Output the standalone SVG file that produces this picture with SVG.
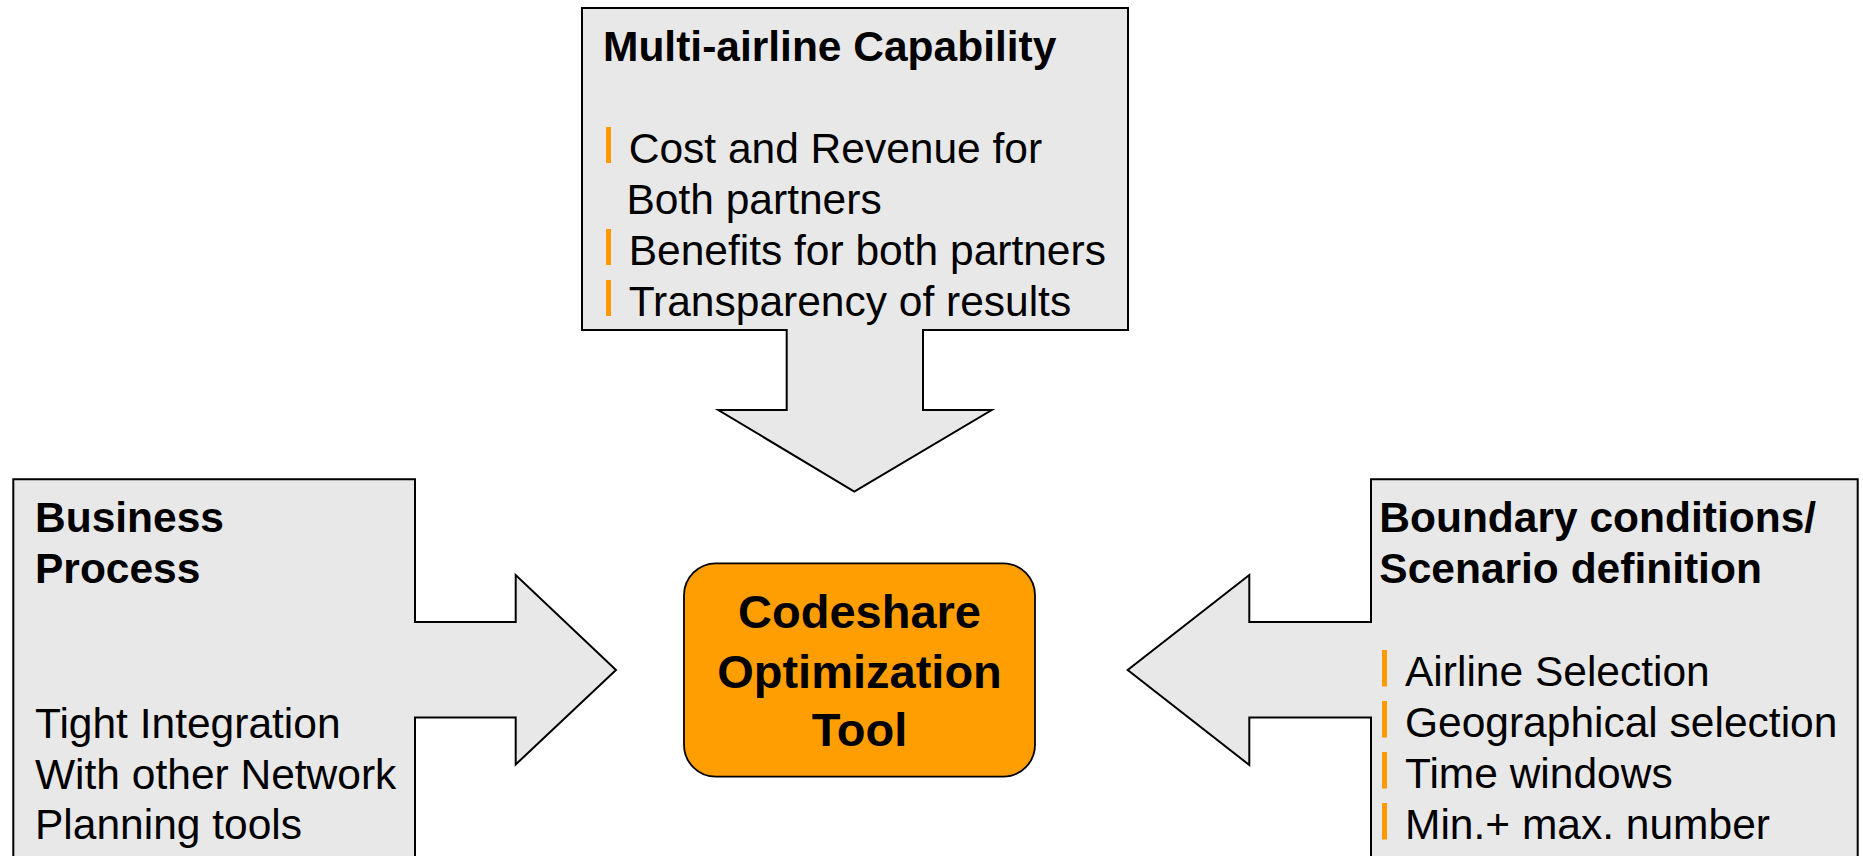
<svg xmlns="http://www.w3.org/2000/svg" width="1863" height="856" viewBox="0 0 1863 856">
<style>
.callout{fill:#E8E8E8;stroke:#000;stroke-width:2;stroke-linejoin:miter}
.core{fill:#FF9E00;stroke:#000;stroke-width:1.8}
.t{font-family:"Liberation Sans",Arial,sans-serif;font-size:42.5px;fill:#000}
.b{font-weight:bold}
.c{font-family:"Liberation Sans",Arial,sans-serif;font-size:47px;font-weight:bold;fill:#000;text-anchor:middle}
.bul{fill:#FF9900}
</style>
<rect width="1863" height="856" fill="#fff"/>
<g id="multi-airline">
<path class="callout" d="M582,8 H1128 V330 H923 V410 H991.7 L854.3,491.7 L718.3,410 H786.7 V330 H582 Z"/>
<text class="t b" x="603" y="61">Multi-airline Capability</text>
<rect class="bul" x="606" y="127" width="5" height="36"/>
<rect class="bul" x="606" y="229" width="5" height="36"/>
<rect class="bul" x="606" y="280" width="5" height="36"/>
<text class="t" x="628.7" y="162.5">Cost and Revenue for</text>
<text class="t" x="626.5" y="213.5">Both partners</text>
<text class="t" x="628.7" y="264.5">Benefits for both partners</text>
<text class="t" x="628.7" y="315.5">Transparency of results</text>
</g>
<g id="business-process">
<path class="callout" d="M13.3,870 V479.3 H415 V622 H515.7 V575 L616,670 L515.7,764.5 V717.5 H415 V870 Z"/>
<text class="t b" x="35" y="531.7">Business</text>
<text class="t b" x="35" y="582.7">Process</text>
<text class="t" x="35" y="737.7">Tight Integration</text>
<text class="t" x="35" y="788.5">With other Network</text>
<text class="t" x="35" y="839.3">Planning tools</text>
</g>
<g id="boundary-conditions">
<path class="callout" d="M1857.7,870 V479.3 H1371 V622 H1249.3 V575 L1127.7,670 L1249.3,765 V717.5 H1371 V870 Z"/>
<text class="t b" x="1379.3" y="531.7">Boundary conditions/</text>
<text class="t b" x="1379.3" y="582.7">Scenario definition</text>
<rect class="bul" x="1382" y="650" width="5" height="36.5"/>
<rect class="bul" x="1382" y="701" width="5" height="36.5"/>
<rect class="bul" x="1382" y="752" width="5" height="36.5"/>
<rect class="bul" x="1382" y="803" width="5" height="36.5"/>
<text class="t" x="1405" y="686">Airline Selection</text>
<text class="t" x="1405" y="737">Geographical selection</text>
<text class="t" x="1405" y="788">Time windows</text>
<text class="t" x="1405" y="839">Min.+ max. number</text>
</g>
<g id="codeshare-tool">
<rect class="core" x="684" y="563.3" width="351" height="213.4" rx="32" ry="32"/>
<text class="c" x="859.5" y="627.5">Codeshare</text>
<text class="c" x="859.5" y="687.5">Optimization</text>
<text class="c" x="859.5" y="746">Tool</text>
</g>
<g id="connectors"></g>
</svg>
